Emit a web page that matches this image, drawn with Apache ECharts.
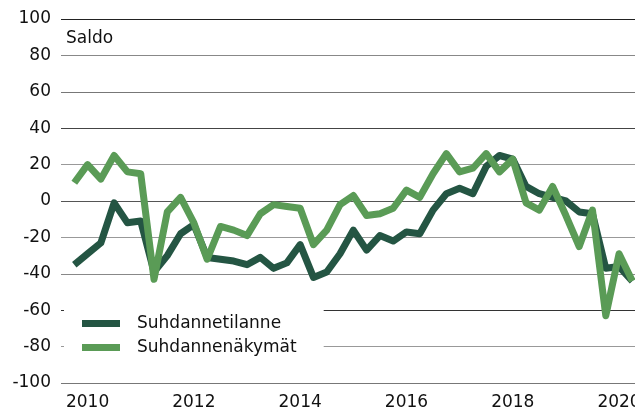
<!DOCTYPE html>
<html>
<head>
<meta charset="utf-8">
<script src="https://cdn.jsdelivr.net/npm/echarts@6/dist/echarts.min.js"></script>
<style>
  html, body { margin: 0; padding: 0; background: #fff; }
  #main { width: 635px; height: 408px; }
</style>
</head>
<body>
<div id="main"></div>
<script>
// quarterly observations, 2009Q4 - 2020Q2
var quarters = [
  "2009Q4",
  "2010Q1", "2010Q2", "2010Q3", "2010Q4",
  "2011Q1", "2011Q2", "2011Q3", "2011Q4",
  "2012Q1", "2012Q2", "2012Q3", "2012Q4",
  "2013Q1", "2013Q2", "2013Q3", "2013Q4",
  "2014Q1", "2014Q2", "2014Q3", "2014Q4",
  "2015Q1", "2015Q2", "2015Q3", "2015Q4",
  "2016Q1", "2016Q2", "2016Q3", "2016Q4",
  "2017Q1", "2017Q2", "2017Q3", "2017Q4",
  "2018Q1", "2018Q2", "2018Q3", "2018Q4",
  "2019Q1", "2019Q2", "2019Q3", "2019Q4",
  "2020Q1", "2020Q2"
];

var tilanne = [
  -35, -29, -23, -1, -12, -11, -39, -30, -18, -13,
  -31, -32, -33, -35, -31, -37, -34, -24, -42, -39,
  -29, -16, -27, -19, -22, -17, -18, -5, 4, 7,
  4, 19, 25, 23, 8, 4, 2, 0, -6, -7,
  -37, -36, -44
];

var nakymat = [
  10, 20, 12, 25, 16, 15, -43, -6, 2, -12,
  -32, -14, -16, -19, -7, -2, -3, -4, -24, -16,
  -2, 3, -8, -7, -4, 6, 2, 15, 26, 16,
  18, 26, 16, 23, -1, -5, 8, -8, -25, -5,
  -63, -29, -44
];

var yearTicks = [2010, 2012, 2014, 2016, 2018, 2020];

var FONT = "DejaVu Sans";
var DARK = "#245543";
var LIGHT = "#5a9b56";

// "2011Q3" -> 2011.5
function quarterPos(q) {
  return Number(q.slice(0, 4)) + (Number(q.slice(5)) - 1) / 4;
}

function pairs(values) {
  return values.map(function (v, i) {
    return [quarterPos(quarters[i]), v];
  });
}

var chart = echarts.init(document.getElementById("main"));

var option = {
  animation: false,
  backgroundColor: "#fff",
  grid: { left: 61, right: 0, top: 19, bottom: 25, outerBoundsMode: "none" },
  xAxis: {
    type: "value",
    min: 2009.5,
    max: 2020.3,
    axisLine: { show: false },
    axisTick: { show: false },
    splitLine: { show: false },
    axisLabel: {
      customValues: yearTicks,
      formatter: function (v) { return String(v); },
      color: "#111",
      fontFamily: FONT,
      fontSize: 17,
      margin: 11
    }
  },
  yAxis: {
    type: "value",
    min: -100,
    max: 100,
    interval: 20,
    axisLine: { show: false },
    axisTick: { show: false },
    axisLabel: {
      color: "#111",
      fontFamily: FONT,
      fontSize: 17,
      margin: 10,
      padding: [4, 0, 0, 0]
    },
    splitLine: {
      lineStyle: {
        width: 1,
        // bottom to top, -100 .. 100
        color: ["#777", "#999", "#333", "#888", "#999", "#555",
                "#999", "#444", "#777", "#888", "#222"]
      }
    }
  },
  legend: {
    orient: "vertical",
    left: 64,
    top: 306,
    padding: [9, 27, 6, 18],
    backgroundColor: "#fff",
    itemGap: 7,
    itemWidth: 38,
    itemHeight: 7,
    textStyle: {
      color: "#111",
      fontFamily: FONT,
      fontSize: 17,
      padding: [0, 0, 0, 12]
    },
    data: [
      {
        name: "Suhdannetilanne",
        icon: "rect",
        itemStyle: { color: DARK, borderWidth: 0, borderColor: "transparent" }
      },
      {
        name: "Suhdannenäkymät",
        icon: "rect",
        itemStyle: { color: LIGHT, borderWidth: 0, borderColor: "transparent" }
      }
    ]
  },
  graphic: [
    {
      type: "text",
      left: 66,
      top: 30,
      style: {
        text: "Saldo",
        fill: "#111",
        font: "17px " + FONT
      }
    }
  ],
  series: [
    {
      name: "Suhdannetilanne",
      type: "line",
      showSymbol: false,
      color: DARK,
      lineStyle: { width: 7, color: DARK, join: "round" },
      data: pairs(tilanne)
    },
    {
      name: "Suhdannenäkymät",
      type: "line",
      showSymbol: false,
      color: LIGHT,
      lineStyle: { width: 7, color: LIGHT, join: "round" },
      data: pairs(nakymat)
    }
  ]
};

chart.setOption(option);
window.onresize = chart.resize;
</script>
</body>
</html>
